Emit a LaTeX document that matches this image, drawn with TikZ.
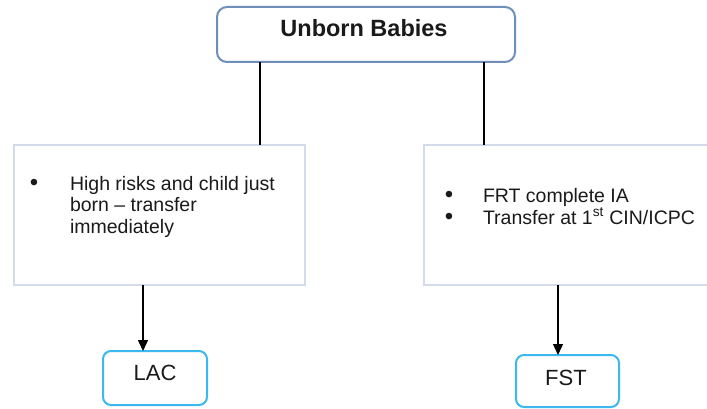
\documentclass[tikz,border=0pt]{standalone}
\usepackage{fontspec}
\setmainfont{Liberation Sans}
\usetikzlibrary{arrows.meta}
\definecolor{topcol}{HTML}{6F8FBA}
\definecolor{midcol}{HTML}{D3DBEA}
\definecolor{leafcol}{HTML}{3BB9EE}
\definecolor{txtcol}{HTML}{1A1A1A}
\begin{document}
\begin{tikzpicture}[x=1pt,y=-1pt,
  every node/.style={inner sep=0pt, outer sep=0pt, text=txtcol},
  topbox/.style={draw=topcol, line width=2pt, rounded corners=10pt, fill=white},
  midbox/.style={draw=midcol, line width=1.5pt, fill=white},
  leafbox/.style={draw=leafcol, line width=2pt, rounded corners=8pt, fill=white},
  conn/.style={line width=1.4pt, draw=black},
  arr/.style={conn, -{Triangle[length=11pt,width=10pt]}},
  body/.style={font=\fontsize{19.5}{21.5}\selectfont, anchor=base west, align=left},
  bul/.style={font=\fontsize{24}{26}\selectfont, anchor=base}
]
\useasboundingbox (0,0) rectangle (707,409);

% boxes
\node[topbox, minimum width=298pt, minimum height=55pt] (top) at (366,34.5) {};
\node[anchor=base, font=\fontsize{23.5}{26}\selectfont\bfseries] (toptext) at (364,37) {Unborn Babies};

\node[midbox, minimum width=291pt, minimum height=140pt] (lbox) at (159.5,215) {};
\node[midbox, minimum width=286pt, minimum height=140pt] (rbox) at (567,215) {};

\node[leafbox, minimum width=104pt, minimum height=54pt] (lac) at (155,378) {};
\node[anchor=base, font=\fontsize{22}{24}\selectfont] (lactext) at (155,380.5) {LAC};
\node[leafbox, minimum width=103pt, minimum height=52pt] (fst) at (567.5,381) {};
\node[anchor=base, font=\fontsize{22}{24}\selectfont] (fsttext) at (566,385.5) {FST};

% left box text (base anchor = last line's baseline)
\node[bul] (lb1) at (34,190.5) {•};
\node[body] (ltext) at (70,233) {High risks and child just\\born – transfer\\immediately};

% right box text
\node[bul] (rb1) at (449,202.5) {•};
\node[bul] (rb2) at (449,224.5) {•};
\node[body] (rt1) at (483,202) {FRT complete IA};
\node[body] (rt2) at (483,224) {Transfer at 1\textsuperscript{st} CIN/ICPC};

% connectors
\coordinate (c1) at (260,0);
\coordinate (c2) at (484,0);
\coordinate (c3) at (143,0);
\coordinate (c4) at (558,0);
\draw[conn] (top.south -| c1) -- (lbox.north -| c1);
\draw[conn] (top.south -| c2) -- (rbox.north -| c2);
\draw[arr] (lbox.south -| c3) -- (lac.north -| c3);
\draw[arr] (rbox.south -| c4) -- (fst.north -| c4);
\end{tikzpicture}
\end{document}
